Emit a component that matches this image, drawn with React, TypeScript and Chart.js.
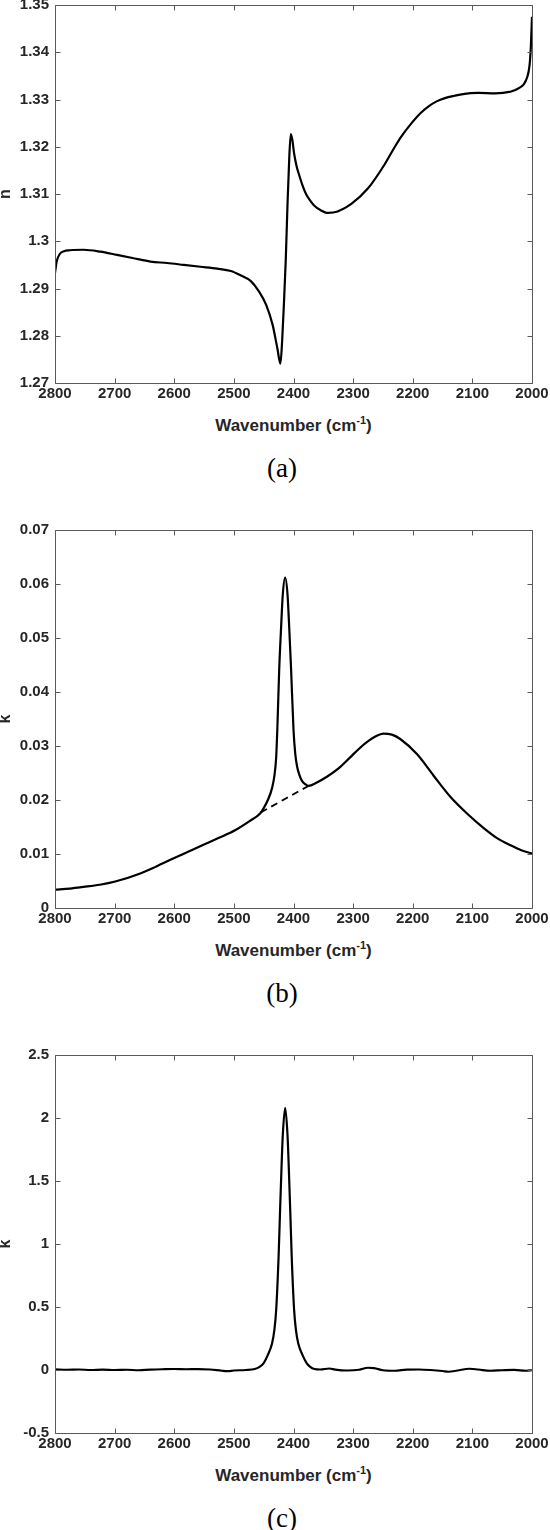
import React, { useEffect, useRef } from "react";
import { Chart, registerables } from "chart.js";

Chart.register(...registerables);

// ---- tick values ----
const xTicks = [2800, 2700, 2600, 2500, 2400, 2300, 2200, 2100, 2000];
const nTicks = [1.27, 1.28, 1.29, 1.3, 1.31, 1.32, 1.33, 1.34, 1.35];
const kbTicks = [0, 0.01, 0.02, 0.03, 0.04, 0.05, 0.06, 0.07];
const kcTicks = [-0.5, 0, 0.5, 1, 1.5, 2, 2.5];

// ---- panel (a): refractive index n ----
const nWave = [2800, 2797, 2792, 2785, 2775, 2752, 2724, 2696, 2668, 2640, 2612, 2584, 2556, 2528, 2505, 2489, 2472, 2458, 2446, 2435, 2427, 2422, 2419, 2416, 2413, 2410, 2407, 2404.5, 2402, 2399, 2395, 2390, 2384, 2379, 2372, 2365, 2355, 2342, 2326, 2303, 2275, 2247, 2230, 2219, 2202, 2188, 2174, 2160, 2146, 2130, 2118, 2090, 2062, 2038, 2022, 2010, 2004, 2002, 2000];
const nValue = [1.2933, 1.2958, 1.2973, 1.2979, 1.2981, 1.2982, 1.2978, 1.2971, 1.2964, 1.2957, 1.2954, 1.295, 1.2946, 1.2942, 1.2937, 1.2928, 1.2916, 1.2894, 1.2866, 1.2823, 1.2773, 1.2741, 1.279, 1.287, 1.296, 1.308, 1.318, 1.3227, 1.3215, 1.3186, 1.316, 1.3138, 1.3115, 1.31, 1.3086, 1.3075, 1.3066, 1.306, 1.3063, 1.3079, 1.3112, 1.3163, 1.32, 1.3222, 1.325, 1.327, 1.3285, 1.3296, 1.3303, 1.3308, 1.3311, 1.3314, 1.3313, 1.3316, 1.3324, 1.3341, 1.3374, 1.341, 1.3475];

// ---- panel (b): extinction coefficient k ----
const kWave = [2800, 2775, 2752, 2725, 2699, 2657, 2630, 2599, 2575, 2551, 2525, 2498, 2475, 2456, 2450, 2443, 2436, 2432, 2429, 2427, 2424, 2421, 2418, 2414, 2410, 2407, 2404, 2400, 2397, 2394, 2390, 2386, 2380, 2375, 2360, 2344, 2325, 2305, 2290, 2277, 2262, 2249, 2235, 2221, 2193, 2165, 2137, 2109, 2081, 2058, 2036, 2018, 2000];
const kValue = [0.0034, 0.0036, 0.0039, 0.0043, 0.0049, 0.0064, 0.0077, 0.0093, 0.0105, 0.0117, 0.013, 0.0144, 0.016, 0.0175, 0.0185, 0.02, 0.0222, 0.0245, 0.028, 0.0335, 0.0441, 0.0515, 0.058, 0.0612, 0.058, 0.0515, 0.0441, 0.033, 0.0285, 0.0262, 0.0246, 0.0236, 0.0229, 0.0226, 0.0233, 0.0243, 0.0258, 0.0279, 0.0295, 0.0307, 0.0318, 0.0323, 0.0321, 0.0313, 0.0285, 0.0245, 0.0206, 0.0175, 0.0148, 0.0129, 0.0116, 0.0107, 0.0101];
const baseWave = [2455, 2375];
const baseValue = [0.0177, 0.0226];

// ---- panel (c): isolated band k ----
const kcWave = [2800, 2780, 2760, 2740, 2720, 2700, 2680, 2660, 2640, 2620, 2600, 2580, 2560, 2540, 2520, 2510, 2500, 2480, 2465, 2457, 2450, 2443, 2436, 2432, 2429, 2425, 2422.5, 2420, 2418, 2414, 2410, 2408, 2405.5, 2403, 2399, 2396, 2392, 2385, 2378, 2372, 2365, 2355, 2340, 2330, 2310, 2290, 2275, 2265, 2250, 2230, 2210, 2190, 2170, 2150, 2140, 2125, 2105, 2090, 2070, 2050, 2030, 2010, 2000];
const kcValue = [0.005, 0.002, 0.004, 0.0, 0.003, 0.0, 0.002, -0.002, 0.003, 0.006, 0.008, 0.006, 0.007, 0.004, -0.006, -0.009, -0.004, 0.0, 0.008, 0.025, 0.055, 0.12, 0.21, 0.32, 0.48, 0.9, 1.27, 1.62, 1.86, 2.08, 1.86, 1.62, 1.27, 0.9, 0.48, 0.32, 0.21, 0.12, 0.055, 0.025, 0.008, 0.004, 0.012, 0.003, -0.004, 0.002, 0.018, 0.015, -0.002, -0.006, 0.003, 0.004, 0.0, -0.008, -0.014, -0.004, 0.01, 0.004, -0.006, -0.002, 0.001, -0.006, -0.002];

const FONT = "'Liberation Sans', Arial, Helvetica, sans-serif";
const AXIS_COLOR = "#5a5a5a";
const TEXT_COLOR = "#262626";

const toXY = (xs: number[], ys: number[]) => xs.map((x, i) => ({ x, y: ys[i] }));
const fmt = (v: number) => String(parseFloat(Number(v).toFixed(4)));

const framePlugin = {
  id: "frame",
  afterDraw(chart: any) {
    const { ctx, chartArea } = chart;
    const { left, right, top, bottom } = chartArea;
    const xs = chart.scales.x;
    const ys = chart.scales.y;
    ctx.save();
    ctx.strokeStyle = AXIS_COLOR;
    ctx.lineWidth = 1;
    const L = Math.round(left) + 0.5;
    const R = Math.round(right) + 0.5;
    const T = Math.round(top) + 0.5;
    const B = Math.round(bottom) + 0.5;
    ctx.beginPath();
    ctx.rect(L, T, R - L, B - T);
    const tl = 5;
    xs.ticks.forEach((t: any) => {
      const p = Math.round(xs.getPixelForValue(t.value)) + 0.5;
      ctx.moveTo(p, B);
      ctx.lineTo(p, B - tl);
      ctx.moveTo(p, T);
      ctx.lineTo(p, T + tl);
    });
    ys.ticks.forEach((t: any) => {
      const p = Math.round(ys.getPixelForValue(t.value)) + 0.5;
      ctx.moveTo(L, p);
      ctx.lineTo(L + tl, p);
      ctx.moveTo(R, p);
      ctx.lineTo(R - tl, p);
    });
    ctx.stroke();
    ctx.restore();
  },
};

function makeConfig(datasets: any[], yMin: number, yMax: number, yTicks: number[], padTop: number) {
  const tickFont = { family: FONT, size: 15, weight: "bold" as const };
  return {
    type: "scatter" as const,
    data: { datasets },
    options: {
      animation: false as const,
      responsive: false,
      devicePixelRatio: 1,
      layout: { padding: { left: 0, right: 18, top: padTop, bottom: 0 } },
      plugins: { legend: { display: false }, tooltip: { enabled: false } },
      elements: { point: { radius: 0 } },
      scales: {
        x: {
          type: "linear" as const,
          reverse: true,
          min: 2000,
          max: 2800,
          afterBuildTicks: (s: any) => {
            s.ticks = xTicks.map((v) => ({ value: v }));
          },
          afterFit: (s: any) => {
            s.height = 30;
            s.paddingLeft = 0;
            s.paddingRight = 0;
          },
          grid: { display: false, drawTicks: false },
          border: { display: false },
          ticks: {
            font: tickFont,
            color: TEXT_COLOR,
            padding: 2,
            maxRotation: 0,
            autoSkip: false,
            callback: (v: any) => fmt(v),
          },
        },
        y: {
          type: "linear" as const,
          min: yMin,
          max: yMax,
          afterBuildTicks: (s: any) => {
            s.ticks = yTicks.map((v) => ({ value: v }));
          },
          afterFit: (s: any) => {
            s.width = 55;
            s.paddingTop = 0;
            s.paddingBottom = 0;
          },
          grid: { display: false, drawTicks: false },
          border: { display: false },
          ticks: {
            font: tickFont,
            color: TEXT_COLOR,
            padding: 6,
            autoSkip: false,
            callback: (v: any) => fmt(v),
          },
        },
      },
    },
    plugins: [framePlugin],
  };
}

const solid = (data: any[]) => ({
  data,
  showLine: true,
  borderColor: "#000",
  borderWidth: 2.2,
  pointRadius: 0,
  cubicInterpolationMode: "monotone" as const,
  fill: false,
});

const PLOT_H = 378;
const AXIS_H = 30;

function Panel({ plotTop, makeCfg, ylabel, caption }: { plotTop: number; makeCfg: (pad: number) => any; ylabel: string; caption: string }) {
  const ref = useRef<HTMLCanvasElement | null>(null);
  const canvasTop = Math.max(0, plotTop - 25);
  const padTop = plotTop - canvasTop;
  const canvasH = padTop + PLOT_H + AXIS_H;
  useEffect(() => {
    if (!ref.current) return;
    const chart = new Chart(ref.current, makeCfg(padTop));
    return () => chart.destroy();
  }, [makeCfg, padTop]);
  const plotBottom = plotTop + PLOT_H;
  return (
    <>
      <canvas
        ref={ref}
        width={550}
        height={canvasH}
        style={{ position: "absolute", left: 0, top: canvasTop, width: 550, height: canvasH, display: "block" }}
      />
      <div
        style={{
          position: "absolute",
          left: 6 - 20,
          top: (plotTop + plotBottom) / 2 - 10,
          width: 40,
          height: 20,
          lineHeight: "20px",
          textAlign: "center",
          transform: "rotate(-90deg)",
          font: `bold 16px ${FONT}`,
          color: TEXT_COLOR,
        }}
      >
        {ylabel}
      </div>
      <div
        style={{
          position: "absolute",
          left: 293.5 - 150,
          top: plotBottom + 44 - 11,
          width: 300,
          height: 22,
          lineHeight: "22px",
          textAlign: "center",
          font: `bold 17px ${FONT}`,
          color: TEXT_COLOR,
          whiteSpace: "nowrap",
        }}
      >
        Wavenumber (cm<span style={{ fontSize: 11, position: "relative", top: -7 }}>-1</span>)
      </div>
      <div
        style={{
          position: "absolute",
          left: 282 - 50,
          top: plotBottom + 86 - 16,
          width: 100,
          height: 32,
          lineHeight: "32px",
          textAlign: "center",
          font: `27px 'Liberation Serif', 'DejaVu Serif', serif`,
          color: "#000",
        }}
      >
        {caption}
      </div>
    </>
  );
}

const cfgA = (pad: number) => makeConfig([solid(toXY(nWave, nValue))], 1.27, 1.35, nTicks, pad);
const cfgB = (pad: number) =>
  makeConfig(
    [
      solid(toXY(kWave, kValue)),
      {
        data: toXY(baseWave, baseValue),
        showLine: true,
        borderColor: "#000",
        borderWidth: 1.8,
        borderDash: [7, 5],
        pointRadius: 0,
        fill: false,
      },
    ],
    0,
    0.07,
    kbTicks,
    pad
  );
const cfgC = (pad: number) => makeConfig([solid(toXY(kcWave, kcValue))], -0.5, 2.5, kcTicks, pad);

export default function App() {
  return (
    <div style={{ position: "absolute", left: 0, top: 0, width: 550, height: 1530, background: "#fff", overflow: "hidden" }}>
      <Panel plotTop={5} makeCfg={cfgA} ylabel="n" caption="(a)" />
      <Panel plotTop={530} makeCfg={cfgB} ylabel="k" caption="(b)" />
      <Panel plotTop={1055} makeCfg={cfgC} ylabel="k" caption="(c)" />
    </div>
  );
}
